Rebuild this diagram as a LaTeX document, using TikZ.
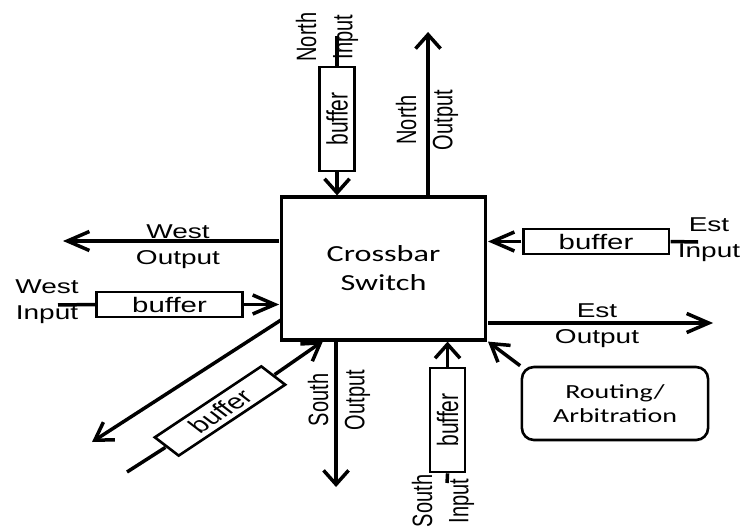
\documentclass[tikz,border=0pt]{standalone}
\usepackage{fontspec}
\setmainfont{Liberation Sans}
\newfontfamily\calibri{Carlito}
\usetikzlibrary{arrows.meta}

\tikzset{
  conn/.style={line width=3.5pt},
  harrow/.style={conn,-{Straight Barb[length=22pt,width=19pt]}},
  varrow/.style={conn,-{Straight Barb[length=14pt,width=25pt]}},
  darrow/.style={conn,-{Straight Barb[length=17pt,width=21pt]}},
  buffer/.style={draw,line width=2.6pt,minimum width=104pt,minimum height=25pt,
    inner sep=0pt,font=\fontsize{21}{25}\selectfont},
  lbl/.style={align=center,inner sep=0pt,font=\fontsize{20}{26}\selectfont},
}

\begin{document}
\begin{tikzpicture}[x={(0.714286pt,0)},y={(0,-1pt)},xscale=1.4,transform shape]
\useasboundingbox (0,0) rectangle (745,529);

\node[draw,line width=3.2pt,minimum width=146pt,minimum height=143pt,align=center,
  font=\calibri\fontsize{23}{29}\selectfont] (xbar) at (383.5,268.5) {Crossbar\\Switch};

% north
\coordinate (nin) at (337,36);
\node[buffer,rotate=90] (nbuf) at (337,119) {buffer};
\draw[conn] (nin) -- (nbuf.east);
\draw[varrow] (nbuf.west) -- (xbar.north -| nbuf);
\node[lbl,rotate=90] (ninlbl) at (327,37) {North\\Input};
\coordinate (nout) at (428,32);
\draw[varrow] (xbar.north -| nout) -- (nout);
\node[lbl,rotate=90] (noutlbl) at (427,120) {North\\Output};

% west
\coordinate (wout) at (63,241);
\draw[harrow] (xbar.west |- wout) -- (wout);
\node[lbl] (woutlbl) at (178,247) {West\\Output};
\coordinate (win) at (58,305);
\node[buffer] (wbuf) at (169.5,304.5) {buffer};
\draw[conn] (win) -- (wbuf.west);
\draw[harrow] (wbuf.east) -- (xbar.west |- wbuf);
\node[lbl] (winlbl) at (47,302) {West\\Input};

% east
\coordinate (ein) at (698,242);
\node[buffer] (ebuf) at (596,241.5) {buffer};
\draw[conn] (ein) -- (ebuf.east);
\draw[harrow] (ebuf.west) -- (xbar.east |- ebuf);
\node[lbl] (einlbl) at (709,240) {Est\\Input};
\coordinate (eout) at (713,323);
\draw[harrow] (xbar.east |- eout) -- (eout);
\node[lbl] (eoutlbl) at (597,326) {Est\\Output};

% south
\coordinate (sout) at (336,487);
\draw[varrow] (xbar.south -| sout) -- (sout);
\node[lbl,rotate=90] (soutlbl) at (339,400) {South\\Output};
\coordinate (sin) at (447,483);
\node[buffer,rotate=90] (sbuf) at (447.5,420) {buffer};
\draw[conn] (sin) -- (sbuf.west);
\draw[varrow] (sbuf.east) -- (xbar.south -| sbuf);
\node[lbl,rotate=90] (sinlbl) at (443,501) {South\\Input};

% diagonal
\coordinate (dtail) at (281,320);
\coordinate (dout) at (92,442);
\draw[darrow] (dtail) -- (dout);
\coordinate (din) at (127,472);
\coordinate (dtip) at (323,341);
\node[buffer,rotate=43] (dbuf) at (220,411) {buffer};
\draw[conn] (din) -- (dbuf.west);
\draw[darrow] (dbuf.east) -- (dtip);

% routing
\node[draw,line width=2.6pt,rounded corners=12pt,minimum width=133pt,minimum height=73pt,
  align=center,font=\calibri\fontsize{20}{24}\selectfont] (route) at (615,403.5) {Routing/\\Arbitration};
\draw[darrow] (route.north west) -- (xbar.south east);
\end{tikzpicture}
\end{document}
